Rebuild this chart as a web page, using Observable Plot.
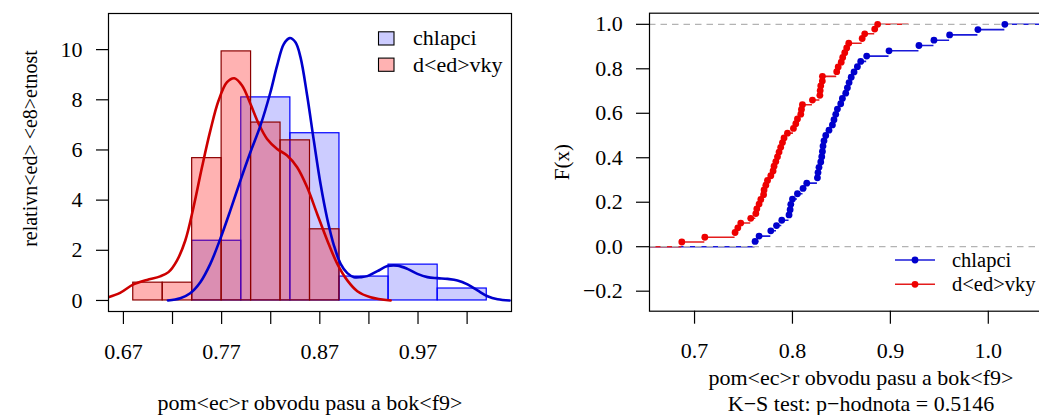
<!DOCTYPE html>
<html><head><meta charset="utf-8">
<script src="https://cdn.jsdelivr.net/npm/d3@7"></script>
<script src="https://cdn.jsdelivr.net/npm/@observablehq/plot@0.6"></script>
<style>
html,body{margin:0;padding:0;background:#fff;overflow:hidden;}
#wrap{position:relative;width:1039px;height:415px;overflow:hidden;}
#left{position:absolute;left:0;top:0;width:540px;height:415px;}
#right{position:absolute;left:540px;top:0;width:561px;height:415px;}
#over{position:absolute;left:0;top:0;}
svg{max-width:none !important;}
#wrap svg, #wrap text{font-family:"Liberation Serif", "Times New Roman", serif !important;font-variant:normal !important;}
</style></head><body><div id="wrap"><div id="left"></div><div id="right"></div><svg id="over" width="1039" height="415"></svg></div>
<script>
// ---- data ----
const groups = ["chlapci", "d<ed>vky"];
const boys = [0.7618,0.7659,0.7779,0.7837,0.7891,0.7965,0.7976,0.7983,0.8000,0.8051,0.8108,0.8146,0.8255,0.8261,0.8271,0.8289,0.8299,0.8306,0.8312,0.8322,0.8340,0.8373,0.8408,0.8424,0.8442,0.8459,0.8493,0.8510,0.8544,0.8561,0.8578,0.8600,0.8629,0.8663,0.8697,0.8758,0.8986,0.9292,0.9445,0.9605,0.9894,1.0169];
const girls = [0.6870,0.7105,0.7414,0.7442,0.7472,0.7574,0.7626,0.7636,0.7659,0.7677,0.7705,0.7710,0.7728,0.7745,0.7779,0.7802,0.7812,0.7830,0.7847,0.7863,0.7880,0.7898,0.7914,0.7949,0.8010,0.8034,0.8051,0.8085,0.8092,0.8102,0.8204,0.8280,0.8283,0.8289,0.8305,0.8306,0.8452,0.8467,0.8498,0.8513,0.8534,0.8554,0.8575,0.8712,0.8738,0.8840,0.8870];
const boysBreaks = [0.74,0.79,0.84,0.89,0.94,0.99,1.04];
const girlsBreaks = [0.68,0.71,0.74,0.77,0.80,0.83,0.86,0.89];
const densBoysX = [0.7153,0.7279,0.738,0.7483,0.7585,0.7687,0.7789,0.7891,0.7993,0.8095,0.8197,0.8265,0.8333,0.8394,0.8452,0.8503,0.8571,0.8639,0.8707,0.8776,0.8844,0.8912,0.898,0.9048,0.9116,0.9184,0.9286,0.9388,0.949,0.9592,0.9694,0.9796,0.9898,1.0,1.0102,1.0204,1.0306,1.0408,1.051,1.0633];
const densBoysY = [0,0.09,0.29,0.73,1.46,2.46,3.59,4.78,5.91,6.97,8.30,9.36,10.22,10.46,10.29,9.70,8.17,6.37,4.65,3.25,2.19,1.46,1.09,0.93,0.93,0.97,1.17,1.37,1.39,1.26,1.06,0.93,0.89,0.86,0.80,0.64,0.40,0.17,0.05,0];
const densGirlsX = [0.6547,0.6666,0.6802,0.6939,0.7074,0.7159,0.7245,0.733,0.7414,0.75,0.7585,0.7669,0.7755,0.783,0.7908,0.7993,0.8078,0.8163,0.8265,0.8367,0.8469,0.8571,0.8673,0.8776,0.8878,0.898,0.9082,0.9217,0.9421];
const densGirlsY = [0.13,0.30,0.64,0.82,0.96,1.13,1.59,2.39,3.72,5.31,6.77,7.97,8.70,8.86,8.57,7.84,7.04,6.44,6.04,5.78,5.31,4.51,3.45,2.39,1.46,0.80,0.37,0.13,0];
const girlsStepRange = [0.655, 0.919];
const leftXTicks = [0.67,0.72,0.77,0.82,0.87,0.92,0.97,1.02];
const leftXLabels = ["0.67","","0.77","","0.87","","0.97",""];
const leftYTicks = [0,2,4,6,8,10];
const rightXTicks = [0.7,0.8,0.9,1.0];
const rightXLabels = ["0.7","0.8","0.9","1.0"];
const rightYTicks = [-0.2,0,0.2,0.4,0.6,0.8,1.0];
const rightYLabels = ["\u22120.2","0.0","0.2","0.4","0.6","0.8","1.0"];
const xTitle = "pom<ec>r obvodu pasu a bok<f9>";
const yTitleLeft = "relativn<ed> <e8>etnost";
const yTitleRight = "F(x)";
const subTitle = "K\u2212S test: p\u2212hodnota = 0.5146";

// ---- styling ----
const FF = "Liberation Serif";
const FS = 22;
const BLUE_FILL = "rgba(0,0,255,0.2)", RED_FILL = "rgba(255,0,0,0.3)";
const BLUE_LINE = "#0000cd", RED_LINE = "#cd0000";

function hist(values, breaks) {
  const n = values.length, out = [];
  for (let i = 0; i < breaks.length - 1; i++) {
    const a = breaks[i], b = breaks[i + 1];
    const c = values.filter(v => v > a && v <= b).length;
    out.push({x1: a, x2: b, y: c / (n * (b - a))});
  }
  return out;
}
function ecdf(values, lo, hi) {
  const s = values.slice().sort((a, b) => a - b), n = s.length;
  const pts = s.map((x, i) => ({x, y: (i + 1) / n}));
  const segs = [{x1: lo, x2: s[0], y: 0}];
  s.forEach((x, i) => segs.push({x1: x, x2: i < n - 1 ? s[i + 1] : hi, y: (i + 1) / n}));
  return {pts, segs};
}
const lmap = (t, l) => new Map(t.map((d, i) => [d, l[i]]));
const lxm = lmap(leftXTicks, leftXLabels), rxm = lmap(rightXTicks, rightXLabels), rym = lmap(rightYTicks, rightYLabels);

const boysHist = hist(boys, boysBreaks), girlsHist = hist(girls, girlsBreaks);
const dB = densBoysX.map((x, i) => ({x, y: densBoysY[i]}));
const dG = densGirlsX.map((x, i) => ({x, y: densGirlsY[i]}));
const T = {fontFamily: FF};

const leftX = [0.6548, 1.0652];
const left = Plot.plot({
  width: 540, height: 415, marginLeft: 108, marginRight: 29, marginTop: 13, marginBottom: 104,
  style: {fontFamily: FF, fontSize: FS + "px", color: "#000", background: "transparent", overflow: "visible", maxWidth: "none"},
  x: {domain: leftX}, y: {domain: [-0.44, 11.44]},
  marks: [
    Plot.rect(boysHist, {x1: "x1", x2: "x2", y1: 0, y2: "y", fill: BLUE_FILL, stroke: "#0000ff", strokeWidth: 1.2}),
    Plot.rect(girlsHist, {x1: "x1", x2: "x2", y1: 0, y2: "y", fill: RED_FILL, stroke: "#8b0000", strokeWidth: 1.2}),
    Plot.line(dG, {x: "x", y: "y", curve: "catmull-rom", stroke: RED_LINE, strokeWidth: 2.6, clip: true}),
    Plot.line(dB, {x: "x", y: "y", curve: "catmull-rom", stroke: BLUE_LINE, strokeWidth: 2.6, clip: true}),
    Plot.frame({stroke: "#000", strokeWidth: 1.2}),
    Plot.axisX({...T, ticks: leftXTicks, tickFormat: d => lxm.get(d), tickSize: 13, tickPadding: 18.4, label: null, fontSize: FS, strokeWidth: 1.2}),
    Plot.axisY({...T, ticks: leftYTicks, tickFormat: d => String(d), tickSize: 12, tickPadding: 14, label: null, fontSize: FS, strokeWidth: 1.2}),
    Plot.text([xTitle], {...T, text: d => d, frameAnchor: "bottom", textAnchor: "middle", dy: 98, lineAnchor: "bottom", fontSize: FS}),
    Plot.text([yTitleLeft], {...T, text: d => d, frameAnchor: "left", textAnchor: "middle", rotate: -90, dx: -72, dy: -14, lineAnchor: "bottom", fontSize: 20})
  ]
});
document.getElementById("left").appendChild(left);

const rightX = [0.654, 1.086];
const bE = ecdf(boys, rightX[0] - 0.5, rightX[1] + 0.5);
const gE = ecdf(girls, girlsStepRange[0], girlsStepRange[1]);
const right = Plot.plot({
  width: 561, height: 415, marginLeft: 109, marginRight: 29, marginTop: 12.7, marginBottom: 104.3,
  style: {fontFamily: FF, fontSize: FS + "px", color: "#000", background: "transparent", overflow: "visible", maxWidth: "none"},
  x: {domain: rightX}, y: {domain: [-0.29, 1.05]},
  marks: [
    Plot.ruleY(bE.segs, {x1: "x1", x2: "x2", y: "y", stroke: "#1a1ad8", strokeWidth: 1.6, clip: true}),
    Plot.ruleY(gE.segs, {x1: "x1", x2: "x2", y: "y", stroke: "#e41c1c", strokeWidth: 1.6, clip: true}),
    Plot.ruleY([0, 1], {stroke: "#b3b3b3", strokeWidth: 1.3, strokeDasharray: "6.5,5"}),
    Plot.dot(bE.pts, {x: "x", y: "y", r: 3.4, fill: "#0000cd", stroke: "none", clip: true}),
    Plot.dot(gE.pts, {x: "x", y: "y", r: 3.4, fill: "#ee0000", stroke: "none", clip: true}),
    Plot.frame({stroke: "#000", strokeWidth: 1.2}),
    Plot.axisX({...T, ticks: rightXTicks, tickFormat: d => rxm.get(d), tickSize: 13, tickPadding: 18.4, label: null, fontSize: FS, strokeWidth: 1.2}),
    Plot.axisY({...T, ticks: rightYTicks, tickFormat: d => rym.get(d), tickSize: 13, tickPadding: 13.7, label: null, fontSize: FS, strokeWidth: 1.2}),
    Plot.text([xTitle], {...T, text: d => d, frameAnchor: "bottom", textAnchor: "middle", dy: 73.3, lineAnchor: "bottom", fontSize: FS}),
    Plot.text([subTitle], {...T, text: d => d, frameAnchor: "bottom", textAnchor: "middle", dy: 99.3, lineAnchor: "bottom", fontSize: FS}),
    Plot.text([yTitleRight], {...T, text: d => d, frameAnchor: "left", textAnchor: "middle", rotate: -90, dx: -81, lineAnchor: "bottom", fontSize: 21})
  ]
});
document.getElementById("right").appendChild(right);

// ---- legends (layout only) ----
const over = d3.select("#over").style("font-size", FS + "px");
const lfill = [BLUE_FILL, RED_FILL];
groups.forEach((g, i) => {
  const yc = 38.4 + i * 26.3;
  over.append("rect").attr("x", 378.5).attr("y", yc - 6.6).attr("width", 15.5).attr("height", 13.2)
    .attr("fill", lfill[i]).attr("stroke", "#000").attr("stroke-width", 1.1);
  over.append("text").attr("x", 413).attr("y", yc + 7).text(g);
});
const rcol = [["#1a1ad8", "#0000cd"], ["#e41c1c", "#ee0000"]];
groups.forEach((g, i) => {
  const yc = 260 + i * 24.3;
  over.append("line").attr("x1", 895).attr("x2", 935).attr("y1", yc).attr("y2", yc).attr("stroke", rcol[i][0]).attr("stroke-width", 1.6);
  over.append("circle").attr("cx", 915).attr("cy", yc).attr("r", 3.4).attr("fill", rcol[i][1]);
  over.append("text").attr("x", 952).attr("y", yc + 7).style("font-size", "20.5px").text(g);
});
d3.selectAll("#wrap text").attr("font-family", "Liberation Serif, serif");
</script></body></html>
